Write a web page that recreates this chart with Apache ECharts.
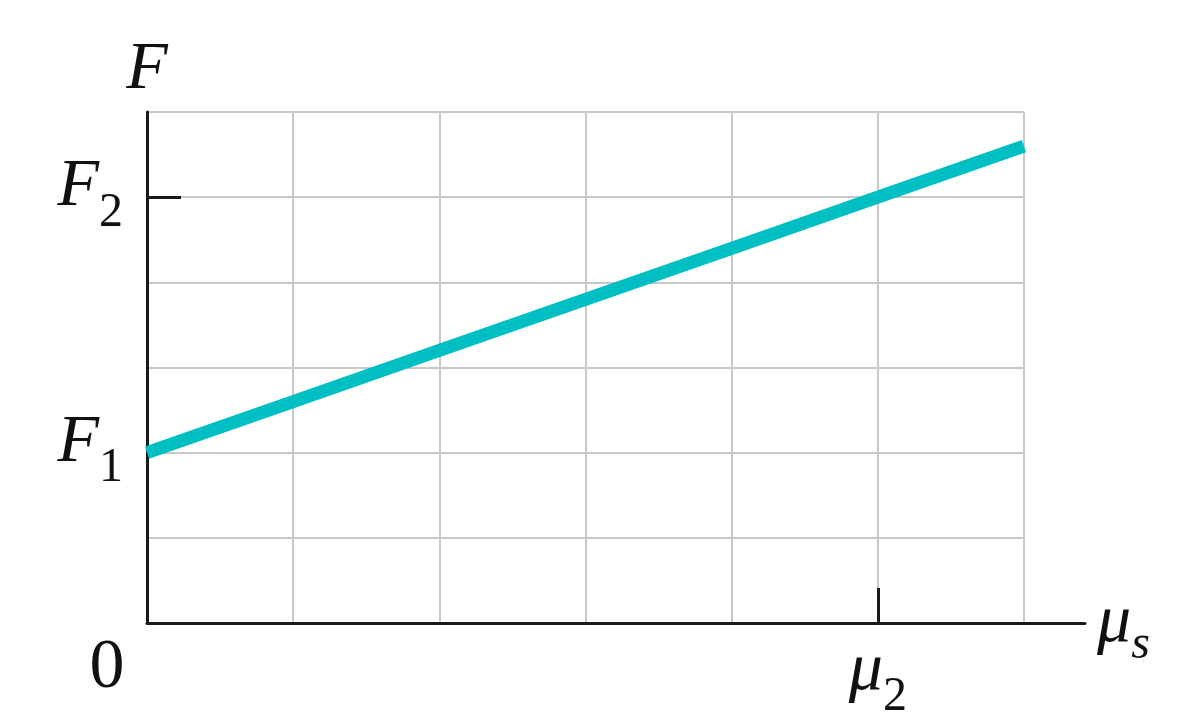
<!DOCTYPE html>
<html>
<head>
<meta charset="utf-8">
<script src="https://cdn.jsdelivr.net/npm/echarts@6/dist/echarts.min.js"></script>
<style>html,body{margin:0;padding:0;background:#fff}#c{width:1200px;height:716px}</style>
</head>
<body>
<div id="c"></div>
<script>
// Data (grid units: x in columns, y in rows)
const muValues = [0, 1, 2, 3, 4, 5, 6];
const forceValues = [2.0, 2.6, 3.2, 3.8, 4.4, 5.0, 5.6];
const xTickValues = [5];
const xLabelValues = [0, 5];
const xLabelTexts = ['{zero|0}', '{m|μ}{sub|2}'];
const yTickValues = [5];
const yLabelValues = [2, 5];
const yLabelTexts = ['{m|F}{sub|1}', '{m|F}{sub|2}'];
const xName = '{m|μ}{subi|s}';
const yName = '{m|F}';

const serif = 'Liberation Serif';
const ink = '#111';
const richStyles = {
  m: { fontFamily: serif, fontStyle: 'italic', fontSize: 68, color: ink, lineHeight: 68 },
  sub: { fontFamily: serif, fontSize: 48, color: ink, padding: [52, 0, 0, 0], lineHeight: 48 },
  subi: { fontFamily: serif, fontStyle: 'italic', fontSize: 48, color: ink, padding: [44, 0, 0, 0], lineHeight: 48 },
  zero: { fontFamily: serif, fontSize: 70, color: ink, padding: [0, 80, 0, 0], lineHeight: 64 }
};
const labelBase = { fontFamily: serif, color: ink, rich: richStyles };
const gridColor = '#c8c8c8';
const axisColor = '#1a1a1a';

const chart = echarts.init(document.getElementById('c'));
chart.setOption({
  animation: false,
  backgroundColor: '#fff',
  textStyle: { fontFamily: serif },
  grid: [
    { left: 147, right: 176, top: 112, bottom: 93, containLabel: false, outerBoundsMode: 'none' },
    { left: 147, right: 115, top: 112, bottom: 93, containLabel: false, outerBoundsMode: 'none' }
  ],
  xAxis: [
    { // grid lines
      type: 'value', gridIndex: 0, min: 0, max: 6, interval: 1, position: 'bottom',
      axisLine: { show: false }, axisTick: { show: false }, axisLabel: { show: false },
      splitLine: { show: true, lineStyle: { color: gridColor, width: 2 } }
    },
    { // extended axis line and name
      type: 'value', gridIndex: 1, min: 0, max: 1, position: 'bottom',
      axisLine: { show: true, lineStyle: { color: axisColor, width: 3 } },
      axisTick: { show: false }, axisLabel: { show: false }, splitLine: { show: false },
      name: xName, nameLocation: 'end', nameGap: 12,
      nameTextStyle: labelBase
    },
    { // ticks and labels
      type: 'value', gridIndex: 0, min: 0, max: 6, position: 'bottom',
      axisLine: { show: false },
      axisTick: { show: true, inside: true, length: 35, customValues: xTickValues, lineStyle: { color: axisColor, width: 3 } },
      axisLabel: Object.assign({
        show: true, margin: 14, customValues: xLabelValues,
        formatter: (v) => xLabelTexts[xLabelValues.indexOf(v)] || ''
      }, labelBase),
      splitLine: { show: false }
    }
  ],
  yAxis: [
    { // grid lines + axis line + name
      type: 'value', gridIndex: 0, min: 0, max: 6, interval: 1, position: 'left',
      axisLine: { show: true, lineStyle: { color: axisColor, width: 3 } },
      axisTick: { show: false }, axisLabel: { show: false },
      splitLine: { show: true, lineStyle: { color: gridColor, width: 2 } },
      name: yName, nameLocation: 'end', nameGap: 8,
      nameTextStyle: Object.assign({ align: 'center' }, labelBase)
    },
    { type: 'value', gridIndex: 1, min: 0, max: 1, show: false },
    { // ticks and labels
      type: 'value', gridIndex: 0, min: 0, max: 6, position: 'left',
      axisLine: { show: false },
      axisTick: { show: true, inside: true, length: 34, customValues: yTickValues, lineStyle: { color: axisColor, width: 3 } },
      axisLabel: Object.assign({
        show: true, margin: 24, customValues: yLabelValues, padding: [0, 0, 20, 0],
        formatter: (v) => yLabelTexts[yLabelValues.indexOf(v)] || ''
      }, labelBase),
      splitLine: { show: false }
    }
  ],
  series: [
    {
      type: 'line', xAxisIndex: 0, yAxisIndex: 0,
      data: muValues.map((m, i) => [m, forceValues[i]]),
      showSymbol: false, symbol: 'none',
      lineStyle: { color: '#00bfc2', width: 13, cap: 'butt' },
      z: 1
    }
  ]
});
</script>
</body>
</html>
